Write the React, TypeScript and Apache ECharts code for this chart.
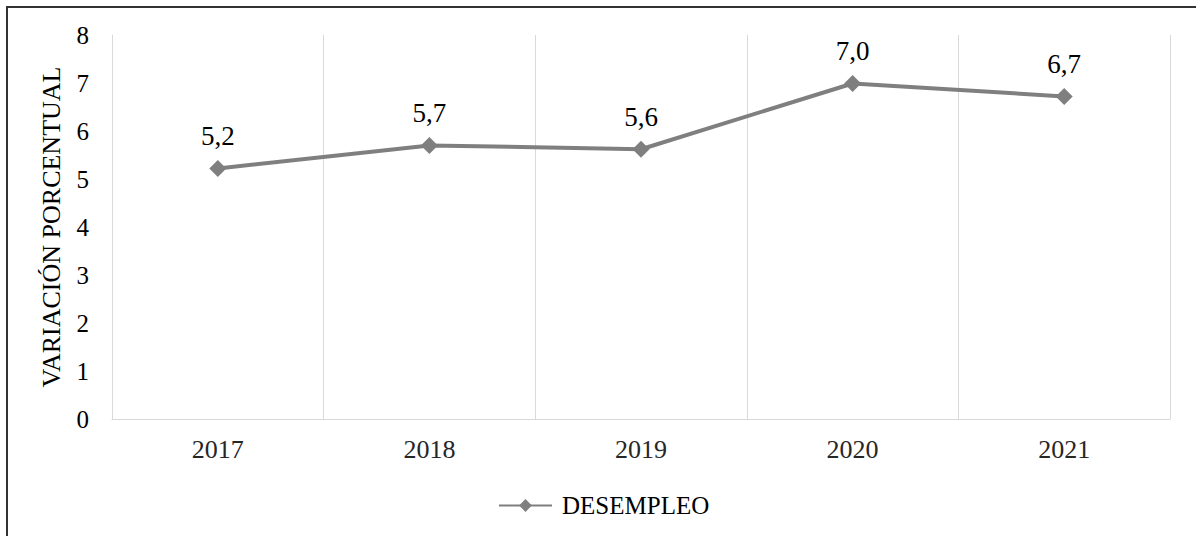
import React, { useEffect, useRef } from "react";
import * as echarts from "echarts";

const categories = ["2017", "2018", "2019", "2020", "2021"];
const desempleo = [5.22, 5.7, 5.62, 6.99, 6.72];
const yTicks = [0, 8, 1];
const seriesName = "DESEMPLEO";
const yTitle = "VARIACIÓN PORCENTUAL";

const FONT = "Liberation Serif";

export default function App() {
  const ref = useRef<HTMLDivElement>(null);
  useEffect(() => {
    if (!ref.current) return;
    const chart = echarts.init(ref.current, undefined, { renderer: "svg" });
    chart.setOption({
      animation: false,
      backgroundColor: "#ffffff",
      textStyle: { fontFamily: FONT },
      graphic: [
        {
          type: "rect",
          shape: { x: 7, y: 7, width: 2000, height: 2000 },
          style: { fill: "none", stroke: "#333333", lineWidth: 2 },
          silent: true,
        },
      ],
      grid: { left: 112, right: 26, top: 35, bottom: 117 },
      legend: {
        left: 493,
        top: 488,
        itemWidth: 53,
        itemHeight: 16,
        data: [seriesName],
        textStyle: {
          fontFamily: FONT,
          fontSize: 25,
          color: "#000000",
          padding: [0, 0, 0, 5],
        },
      },
      xAxis: {
        type: "category",
        data: categories,
        boundaryGap: true,
        axisLine: { show: true, lineStyle: { color: "#d9d9d9", width: 1 } },
        axisTick: { show: false },
        splitLine: { show: true, lineStyle: { color: "#d9d9d9", width: 1 } },
        axisLabel: {
          fontFamily: FONT,
          fontSize: 26,
          color: "#262626",
          margin: 17,
        },
      },
      yAxis: {
        type: "value",
        min: yTicks[0],
        max: yTicks[1],
        interval: yTicks[2],
        name: yTitle,
        nameLocation: "middle",
        nameGap: 48,
        nameRotate: 90,
        nameTextStyle: { fontFamily: FONT, fontSize: 26, color: "#000000" },
        axisLine: { show: true, lineStyle: { color: "#d9d9d9", width: 1 } },
        axisTick: { show: false },
        splitLine: { show: false },
        axisLabel: {
          fontFamily: FONT,
          fontSize: 25,
          color: "#000000",
          margin: 23,
        },
      },
      series: [
        {
          name: seriesName,
          type: "line",
          data: desempleo,
          symbol: "diamond",
          symbolSize: 17,
          lineStyle: { color: "#7f7f7f", width: 4 },
          itemStyle: { color: "#7f7f7f" },
          label: {
            show: true,
            position: "top",
            distance: 10,
            fontFamily: FONT,
            fontSize: 27,
            color: "#000000",
            formatter: (p: any) => Number(p.value).toFixed(1).replace(".", ","),
          },
        },
      ],
    });
    return () => chart.dispose();
  }, []);
  return (
    <div
      ref={ref}
      style={{ position: "fixed", left: 0, top: 0, width: 1196, height: 536 }}
    />
  );
}
